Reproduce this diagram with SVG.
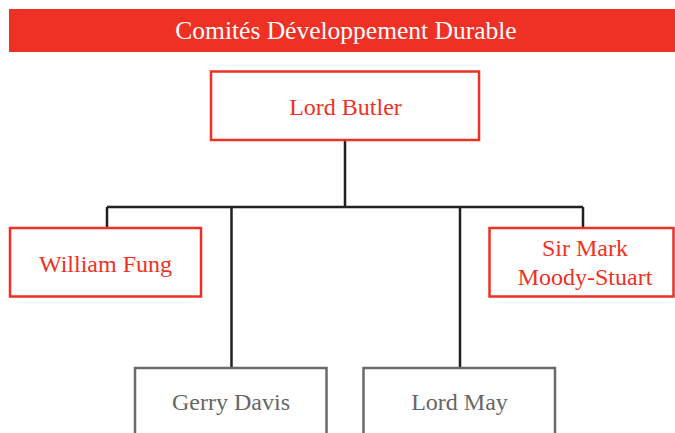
<svg xmlns="http://www.w3.org/2000/svg" width="675" height="433" viewBox="0 0 675 433">
<style>
.red{fill:#fff;stroke:#ee3124;stroke-width:2.5}
.gray{fill:#fff;stroke:#6a6a6a;stroke-width:2.5}
.t{font-family:"Liberation Serif","Times New Roman",serif;font-size:24px;text-anchor:middle}
.tr{fill:#ee3124}
.tg{fill:#666}
.c{stroke:#231f20;stroke-width:2.5;fill:none}
</style>
<rect width="675" height="433" fill="#fff"/>
<g id="banner">
<rect x="9" y="9" width="666" height="43" fill="#ee3124"/>
<text class="t" x="346" y="39" fill="#fff" style="font-size:25.5px">Comités Développement Durable</text>
</g>
<g id="connectors">
<path class="c" d="M345 140V207M107 207H583M107 207V227M583 207V227M231.5 207V368M460 207V368"/>
</g>
<g id="lord-butler">
<rect class="red" x="211" y="71.5" width="268" height="68.5"/>
<text class="t tr" x="345.5" y="114.5">Lord Butler</text>
</g>
<g id="william-fung">
<rect class="red" x="10" y="228" width="191" height="68.5"/>
<text class="t tr" x="105.5" y="271.5">William Fung</text>
</g>
<g id="sir-mark">
<rect class="red" x="489.5" y="228" width="184" height="68.5"/>
<text class="t tr" x="585" y="255.5">Sir Mark</text>
<text class="t tr" x="585" y="285">Moody-Stuart</text>
</g>
<g id="gerry-davis">
<rect class="gray" x="135" y="368" width="191.5" height="80"/>
<text class="t tg" x="231" y="410">Gerry Davis</text>
</g>
<g id="lord-may">
<rect class="gray" x="363.5" y="368" width="191.5" height="80"/>
<text class="t tg" x="459.5" y="410">Lord May</text>
</g>
</svg>
